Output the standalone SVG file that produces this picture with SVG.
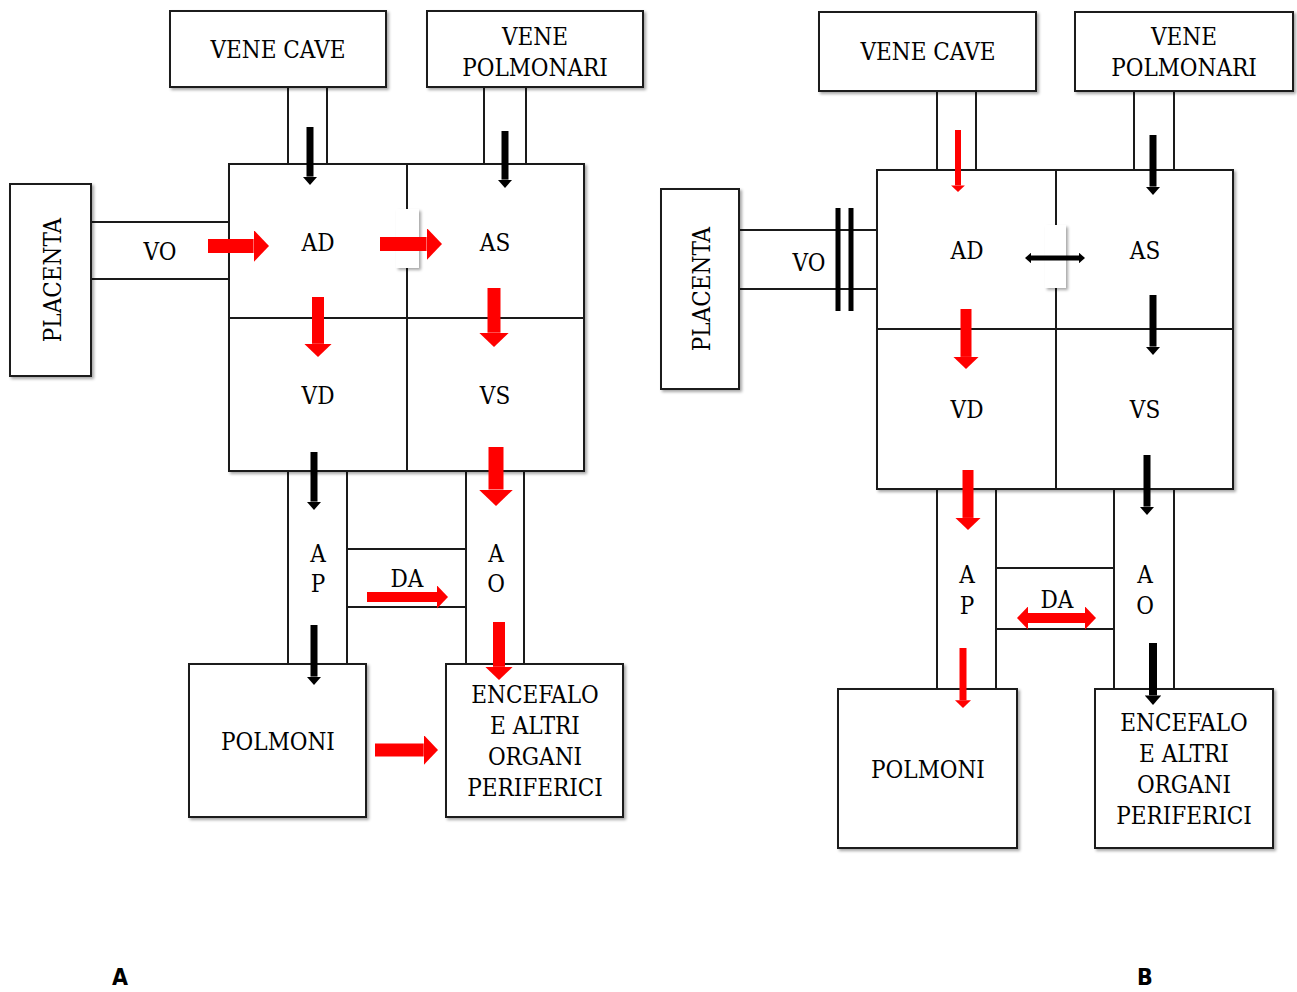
<svg xmlns="http://www.w3.org/2000/svg" width="1297" height="992" viewBox="0 0 1297 992">
<defs>
<filter id="sh" x="-10%" y="-10%" width="130%" height="130%">
<feDropShadow dx="2" dy="2" stdDeviation="1.5" flood-color="#000" flood-opacity="0.35"/>
</filter>
<marker id="hr" viewBox="0 0 11 23" refX="0" refY="11.5" markerWidth="1.1" markerHeight="2.3" orient="auto-start-reverse" markerUnits="strokeWidth"><path d="M0,0L11,11.5L0,23z" fill="#ff0000"/></marker>
<marker id="hk" viewBox="0 0 12 21" refX="0" refY="10.5" markerWidth="1.2" markerHeight="2.1" orient="auto-start-reverse" markerUnits="strokeWidth"><path d="M0,0L12,10.5L0,21z" fill="#000"/></marker>
</defs>
<style>
.box{fill:#fff;stroke:#1a1a1a;stroke-width:2;filter:url(#sh)}
.ch{fill:none;stroke:#1a1a1a;stroke-width:2}
.tube{stroke:#1a1a1a;stroke-width:2;fill:none}
.gap{fill:#fff;stroke:none;filter:url(#sh)}
.r{stroke:#ff0000;fill:none;marker-end:url(#hr)}
.rd{stroke:#ff0000;fill:none;marker-end:url(#hr);marker-start:url(#hr)}
.k{stroke:#000;fill:none;marker-end:url(#hk)}
.kd{stroke:#000;fill:none;marker-end:url(#hk);marker-start:url(#hk)}
text{font-family:"DejaVu Serif Condensed","DejaVu Serif","Liberation Serif",serif;font-stretch:condensed;font-size:24px;fill:#000;text-anchor:middle}
.lab{font-family:"DejaVu Sans Condensed","DejaVu Sans","Liberation Sans",sans-serif;font-weight:bold;font-size:23px}
</style>
<rect width="1297" height="992" fill="#fff"/>

<!-- ===== Diagram A ===== -->
<g id="A-tubes">
<path class="tube" d="M288,87V164M327,87V164"/>
<path class="tube" d="M484,87V164M526,87V164"/>
<path class="tube" d="M91,222H229M91,279H229"/>
<path class="tube" d="M288,471V663M347,471V663"/>
<path class="tube" d="M466,471V663M524,471V663"/>
</g>
<g id="A-vene-cave"><rect class="box" x="170" y="11" width="216" height="76"/><text x="278" y="58">VENE CAVE</text></g>
<g id="A-vene-polmonari"><rect class="box" x="427" y="11" width="216" height="76"/><text x="535" y="45">VENE</text><text x="535" y="76">POLMONARI</text></g>
<g id="A-placenta"><rect class="box" x="10" y="184" width="81" height="192"/><text transform="translate(61,280) rotate(-90)">PLACENTA</text></g>
<g id="A-heart"><rect class="box" x="229" y="164" width="355" height="307"/></g>
<g id="A-AD"><rect class="ch" x="229" y="164" width="178" height="154"/><text x="318" y="251">AD</text></g>
<g id="A-AS"><rect class="ch" x="407" y="164" width="177" height="154"/><text x="495" y="251">AS</text></g>
<g id="A-VD"><rect class="ch" x="229" y="318" width="178" height="153"/><text x="318" y="404">VD</text></g>
<g id="A-VS"><rect class="ch" x="407" y="318" width="177" height="153"/><text x="495" y="404">VS</text></g>
<g id="A-septum-gap"><rect class="gap" x="396" y="209" width="23" height="59"/></g>
<g id="A-VO"><text x="160" y="260">VO</text></g>
<g id="A-AP"><text x="318" y="562">A</text><text x="318" y="592">P</text></g>
<g id="A-AO"><text x="496" y="562">A</text><text x="496" y="592">O</text></g>
<g id="A-DA"><path class="tube" d="M347,549H466M347,607H466"/><text x="407" y="587">DA</text></g>
<g id="A-polmoni"><rect class="box" x="189" y="664" width="177" height="153"/><text x="278" y="750">POLMONI</text></g>
<g id="A-encefalo"><rect class="box" x="446" y="664" width="177" height="153"/><text x="535" y="703">ENCEFALO</text><text x="535" y="734">E ALTRI</text><text x="535" y="765">ORGANI</text><text x="535" y="796">PERIFERICI</text></g>

<!-- ===== Diagram B ===== -->
<g id="B-tubes">
<path class="tube" d="M937,91V170M976,91V170"/>
<path class="tube" d="M1134,91V170M1174,91V170"/>
<path class="tube" d="M739,230H877M739,289H877"/>
<path class="tube" d="M937,489V689M996,489V689"/>
<path class="tube" d="M1114,489V689M1174,489V689"/>
</g>
<g id="B-vene-cave"><rect class="box" x="819" y="12" width="217" height="79"/><text x="928" y="60">VENE CAVE</text></g>
<g id="B-vene-polmonari"><rect class="box" x="1075" y="12" width="218" height="79"/><text x="1184" y="45">VENE</text><text x="1184" y="76">POLMONARI</text></g>
<g id="B-placenta"><rect class="box" x="661" y="189" width="78" height="200"/><text transform="translate(710,289) rotate(-90)">PLACENTA</text></g>
<g id="B-heart"><rect class="box" x="877" y="170" width="356" height="319"/></g>
<g id="B-AD"><rect class="ch" x="877" y="170" width="179" height="159"/><text x="967" y="259">AD</text></g>
<g id="B-AS"><rect class="ch" x="1056" y="170" width="177" height="159"/><text x="1145" y="259">AS</text></g>
<g id="B-VD"><rect class="ch" x="877" y="329" width="179" height="160"/><text x="967" y="418">VD</text></g>
<g id="B-VS"><rect class="ch" x="1056" y="329" width="177" height="160"/><text x="1145" y="418">VS</text></g>
<g id="B-septum-gap"><rect class="gap" x="1045" y="225" width="21" height="63"/></g>
<g id="B-VO"><text x="809" y="271">VO</text><path d="M838,208V311M851,208V311" stroke="#000" stroke-width="5" fill="none"/></g>
<g id="B-AP"><text x="967" y="583">A</text><text x="967" y="614">P</text></g>
<g id="B-AO"><text x="1145" y="583">A</text><text x="1145" y="614">O</text></g>
<g id="B-DA"><path class="tube" d="M996,568H1114M996,629H1114"/><text x="1057" y="608">DA</text></g>
<g id="B-polmoni"><rect class="box" x="838" y="689" width="179" height="159"/><text x="928" y="778">POLMONI</text></g>
<g id="B-encefalo"><rect class="box" x="1095" y="689" width="178" height="159"/><text x="1184" y="731">ENCEFALO</text><text x="1184" y="762">E ALTRI</text><text x="1184" y="793">ORGANI</text><text x="1184" y="824">PERIFERICI</text></g>

<!-- ===== Connectors ===== -->
<g id="connectors">
<line class="k" x1="310" y1="127" x2="310" y2="176.6" stroke-width="7"/>
<line class="k" x1="505" y1="131" x2="505" y2="179.6" stroke-width="7"/>
<line class="r" x1="208" y1="246" x2="253.6" y2="246" stroke-width="14"/>
<line class="r" x1="380" y1="244" x2="426.6" y2="244" stroke-width="14"/>
<line class="r" x1="318" y1="297" x2="318" y2="343.8" stroke-width="12"/>
<line class="r" x1="494" y1="288" x2="494" y2="332.7" stroke-width="13"/>
<line class="k" x1="314" y1="452" x2="314" y2="501.6" stroke-width="7"/>
<line class="r" x1="496" y1="447" x2="496" y2="489.5" stroke-width="15"/>
<line class="r" x1="367" y1="597" x2="437" y2="597" stroke-width="10"/>
<line class="k" x1="314" y1="625" x2="314" y2="676.6" stroke-width="7"/>
<line class="r" x1="499" y1="622" x2="499" y2="666.8" stroke-width="12"/>
<line class="r" x1="375" y1="750" x2="423.7" y2="750" stroke-width="13"/>

<line class="r" x1="958" y1="130" x2="958" y2="185.4" stroke-width="6"/>
<line class="k" x1="1153" y1="135" x2="1153" y2="186.6" stroke-width="7"/>
<line class="kd" x1="1031" y1="258" x2="1079" y2="258" stroke-width="5"/>
<line class="r" x1="966" y1="309" x2="966" y2="356.9" stroke-width="11"/>
<line class="k" x1="1153" y1="295" x2="1153" y2="346.6" stroke-width="7"/>
<line class="r" x1="968" y1="470" x2="968" y2="517.9" stroke-width="11"/>
<line class="k" x1="1147" y1="455" x2="1147" y2="506.6" stroke-width="7"/>
<line class="rd" x1="1028" y1="618" x2="1085" y2="618" stroke-width="10"/>
<line class="r" x1="963" y1="648" x2="963" y2="700.3" stroke-width="7"/>
<line class="k" x1="1153" y1="643" x2="1153" y2="695.4" stroke-width="8"/>
</g>

<text class="lab" x="120" y="985">A</text>
<text class="lab" x="1145" y="985">B</text>
</svg>
